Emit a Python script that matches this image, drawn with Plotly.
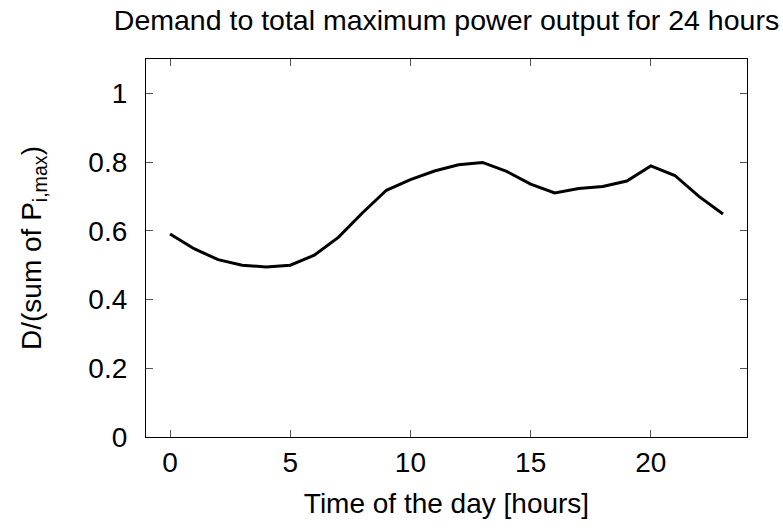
import plotly.graph_objects as go

hours = list(range(24))
demand_ratio = [0.591, 0.548, 0.516, 0.500, 0.495, 0.500, 0.529, 0.581, 0.652, 0.718,
                0.749, 0.774, 0.792, 0.799, 0.773, 0.736, 0.710, 0.723, 0.729, 0.745,
                0.789, 0.761, 0.700, 0.649]
x_ticks = [0, 5, 10, 15, 20]
y_ticks = [0, 0.2, 0.4, 0.6, 0.8, 1]
y_tick_labels = ["0", "0.2", "0.4", "0.6", "0.8", "1"]

font_family = "Liberation Sans, Arial, sans-serif"
fs = 28

fig = go.Figure()
fig.add_trace(go.Scatter(x=hours, y=demand_ratio, mode="lines",
                         line=dict(color="black", width=3), showlegend=False))

fig.update_layout(
    width=783, height=528,
    margin=dict(l=146, r=36, t=59, b=91),
    paper_bgcolor="white", plot_bgcolor="white",
    font=dict(family=font_family, size=fs, color="black"),
    title=dict(text="Demand to total maximum power output for 24 hours",
               x=0.5, xref="paper", xanchor="center",
               y=0.962, yref="container", yanchor="middle",
               font=dict(size=28.5, family=font_family, color="black")),
)
fig.update_xaxes(range=[-1, 24], tickvals=x_ticks, ticks="inside", ticklen=7,
                 tickcolor="#555", tickwidth=1, showline=True, linecolor="black", linewidth=1.2,
                 mirror="ticks", showgrid=False, zeroline=False,
                 title=dict(text="Time of the day [hours]", standoff=16,
                            font=dict(size=fs)),
                 tickfont=dict(size=fs))
fig.update_yaxes(range=[0, 1.1], tickvals=y_ticks, ticktext=y_tick_labels,
                 ticks="inside", ticklen=7, ticklabelstandoff=12,
                 tickcolor="#555", tickwidth=1, showline=True, linecolor="black", linewidth=1.2,
                 mirror="ticks", showgrid=False, zeroline=False,
                 title=dict(text="D/(sum of P<sub>i,max</sub>)", standoff=38,
                            font=dict(size=fs)),
                 tickfont=dict(size=fs))

fig.write_html("out.html")
